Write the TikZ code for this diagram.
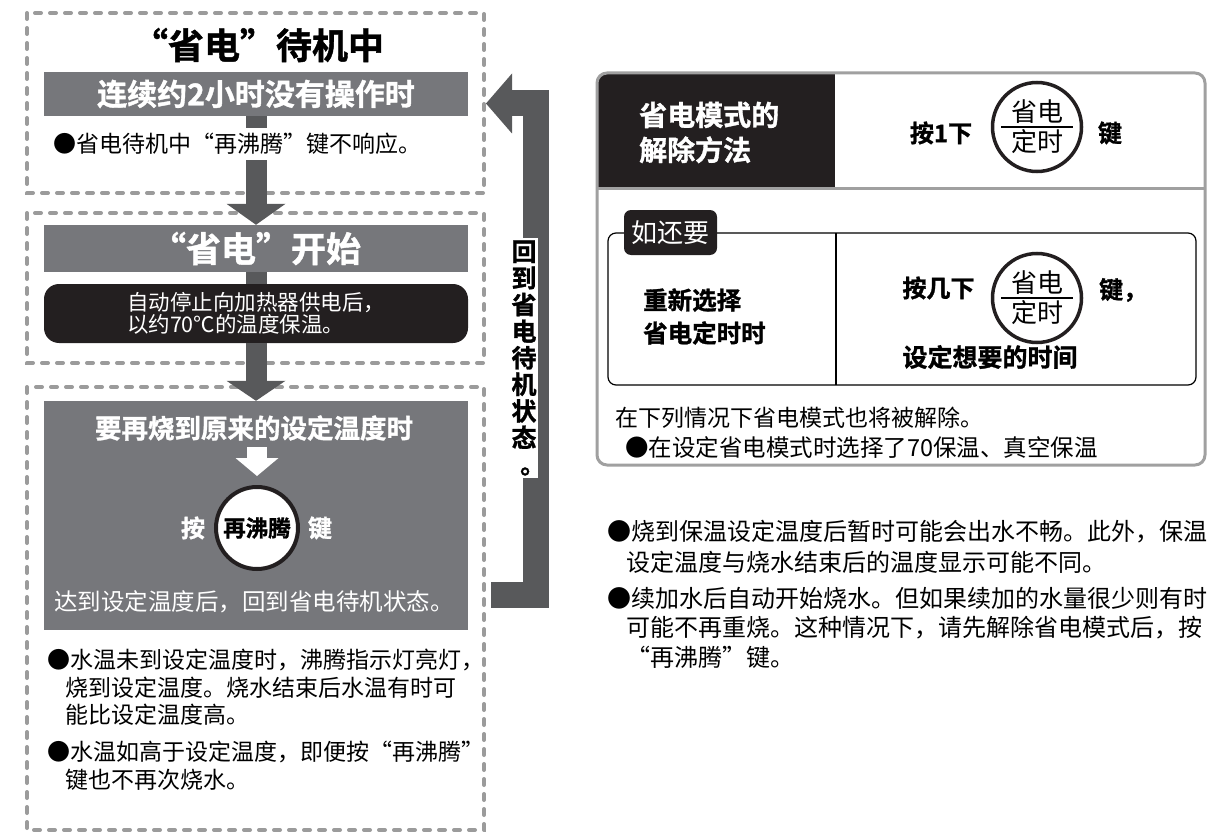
\documentclass[tikz,border=0pt]{standalone}
\usepackage{fontspec}
\setmainfont{Noto Sans CJK SC}[BoldFont={Noto Sans CJK SC Bold}, BoldFeatures={FakeBold=1.2}]
\usetikzlibrary{arrows.meta,positioning,calc}

\definecolor{bargray}{RGB}{118,119,123}
\definecolor{arrowgray}{RGB}{88,89,91}
\definecolor{dashgray}{RGB}{155,155,155}
\definecolor{boxgray}{RGB}{160,160,160}
\definecolor{inkblack}{RGB}{35,31,32}
\newcommand{\fsz}[2]{\fontsize{#1}{#2}\selectfont}

\begin{document}
\begin{tikzpicture}[
  x=1pt, y=-1pt,
  dashbox/.style={draw=dashgray, line width=4pt, line cap=round, dash pattern=on 6pt off 9pt},
  graybar/.style={fill=bargray, text=white, minimum width=424pt, inner sep=0pt},
  blockarrow/.style={arrowgray, line width=21pt, -{Triangle[width=59pt, length=21pt, line width=0pt]}},
  keyc/.style={circle, draw=inkblack, fill=white, line width=4pt, minimum size=89pt, inner sep=0pt},
  note/.style={anchor=west, inner sep=0pt, font=\fsz{23}{28}},
  rnote/.style={anchor=west, inner sep=0pt, font=\fsz{24}{30}},
  label/.style={inner sep=0pt, text=white}
]
  \useasboundingbox (0,0) rectangle (1208,832);

  % dashed frames
  \draw[dashbox] (27,13) rectangle (484,193);
  \draw[dashbox] (27,213) rectangle (484,363);
  \draw[dashbox] (27,387) rectangle (484,830);

  \node[font=\fsz{36}{40}\bfseries] (standby) at (258,45) {“省电”待机中};
  \node[graybar, minimum height=44pt, font=\fsz{30}{34}\bfseries] (idle) at (256,94) {连续约2小时没有操作时};
  \node[graybar, minimum height=47pt, font=\fsz{35}{40}\bfseries] (start) at (256,248.5) {“省电”开始};
  \node[fill=inkblack, rounded corners=15pt, minimum width=424pt, minimum height=59pt, text=white,
    align=left, font=\fsz{21.5}{22.5}] (keepwarm) at (256,313.5) {自动停止向加热器供电后，\\以约70℃的温度保温。};
  \node[graybar, minimum height=229pt] (reboil) at (256,515.5) {};

  \draw[blockarrow] (idle.south) -- (start.north);
  \draw[arrowgray, line width=21pt] (start.south) -- (keepwarm.north);
  \draw[blockarrow, -{Triangle[width=59pt, length=20pt, line width=0pt]}] (keepwarm.south) -- (reboil.north);

  \node[note, fill=white, inner ysep=5pt] (nokey) at (53,144) {●省电待机中“再沸腾”键不响应。};

  % inside the third stage
  \node[label, font=\fsz{26.5}{30}\bfseries] (again) at (254,428) {要再烧到原来的设定温度时};
  \node[keyc, minimum size=82pt, font=\fsz{22.5}{24}\bfseries] (reboilkey) at (257,528) {再沸腾};
  \coordinate (w0) at (257,447);
  \draw[white, line width=20pt, -{Triangle[width=43pt, length=18pt, line width=0pt]}, shorten >=9pt] (w0) -- (reboilkey.north);
  \node[label, font=\fsz{24}{26}\bfseries] (press) at (193,528) {按};
  \node[label, font=\fsz{24}{26}\bfseries] (key0) at (320,528) {键};
  \node[label, font=\fsz{23.5}{26}] (back) at (254,602) {达到设定温度后，回到省电待机状态。};

  \node[note] (n1) at (47,660) {●水温未到设定温度时，沸腾指示灯亮灯，};
  \node[note] (n2) at (65,688) {烧到设定温度。烧水结束后水温有时可};
  \node[note] (n3) at (65,715) {能比设定温度高。};
  \node[note] (n4) at (47,752) {●水温如高于设定温度，即便按“再沸腾”};
  \node[note] (n5) at (65,780) {键也不再次烧水。};

  % way back
  \coordinate (ret0) at (491,594.5);
  \coordinate (retc) at (536,103.5);
  \coordinate (ret1) at (486,103.5);
  \draw[arrowgray, line width=26pt, line join=miter, -{Triangle[width=60pt, length=26pt, line width=0pt]}]
    (ret0) -| (retc) -- (ret1);
  \node[fill=white, minimum width=28pt, minimum height=240pt, inner sep=0pt, align=center,
    font=\fsz{25}{26.6}\bfseries] (retlbl) at (524,358)
    {回\\到\\省\\电\\待\\机\\状\\态\\\makebox[1em][l]{\kern0.35em 。}};

  % right table
  \begin{scope}
    \clip[rounded corners=10pt] (597,73) rectangle (1205,465);
    \fill[inkblack] (597,73) rectangle (835,189);
  \end{scope}
  \draw[boxgray, line width=3pt, rounded corners=10pt] (597,73) rectangle (1205,465);
  \draw[boxgray, line width=3pt] (597,189) -- (1205,189);

  \node[label, anchor=west, align=left, font=\fsz{28}{35}\bfseries] (cancel) at (639,132.5) {省电模式的\\解除方法};
  \node[font=\fsz{24}{26}\bfseries] (once) at (941,133) {按1下};
  \node[font=\fsz{24}{26}\bfseries] (key1) at (1110,133) {键};

  \draw[line width=1.2pt, rounded corners=8pt] (608,233) rectangle (1196,385);
  \draw[line width=1.2pt] (836,233) -- (836,385);
  \node[label, fill=inkblack, rounded corners=7pt, minimum width=93pt, minimum height=45pt,
    font=\fsz{26}{28}] (more) at (670.5,232.5) {如还要};
  \node[anchor=west, align=left, inner sep=0pt, font=\fsz{24.5}{33}\bfseries] (reset) at (643,316.5) {重新选择\\省电定时时};
  \node[font=\fsz{24}{26}\bfseries] (times) at (938.5,288) {按几下};
  \node[anchor=west, inner sep=0pt, font=\fsz{24}{26}\bfseries] (key2) at (1099,290) {键，};
  \node[font=\fsz{25}{28}\bfseries] (settime) at (990,357) {设定想要的时间};

  \foreach \t/\y in {timer1/127, timer2/298} {
    \node[keyc, line width=3.5pt] (\t) at (1037,\y) {};
    \node[font=\fsz{26}{28}] (\t up) at ($(\t)+(0,-15)$) {省电};
    \node[font=\fsz{26}{28}] (\t dn) at ($(\t)+(0,15)$) {定时};
    \draw[line width=1.5pt] ($(\t)+(-36,0)$) -- ($(\t)+(36,0)$);
  }

  \node[rnote, font=\fsz{23}{28}] (also) at (615,418) {在下列情况下省电模式也将被解除。};
  \node[rnote, font=\fsz{23.5}{28}] (case) at (625,448) {●在设定省电模式时选择了70保温、真空保温};

  % notes below the table
  \node[rnote] (r1) at (607,532) {●烧到保温设定温度后暂时可能会出水不畅。此外，保温};
  \node[rnote] (r2) at (626,562) {设定温度与烧水结束后的温度显示可能不同。};
  \node[rnote] (r3) at (607,598) {●续加水后自动开始烧水。但如果续加的水量很少则有时};
  \node[rnote] (r4) at (626,628) {可能不再重烧。这种情况下，请先解除省电模式后，按};
  \node[rnote] (r5) at (626,657) {“再沸腾”键。};
\end{tikzpicture}
\end{document}
